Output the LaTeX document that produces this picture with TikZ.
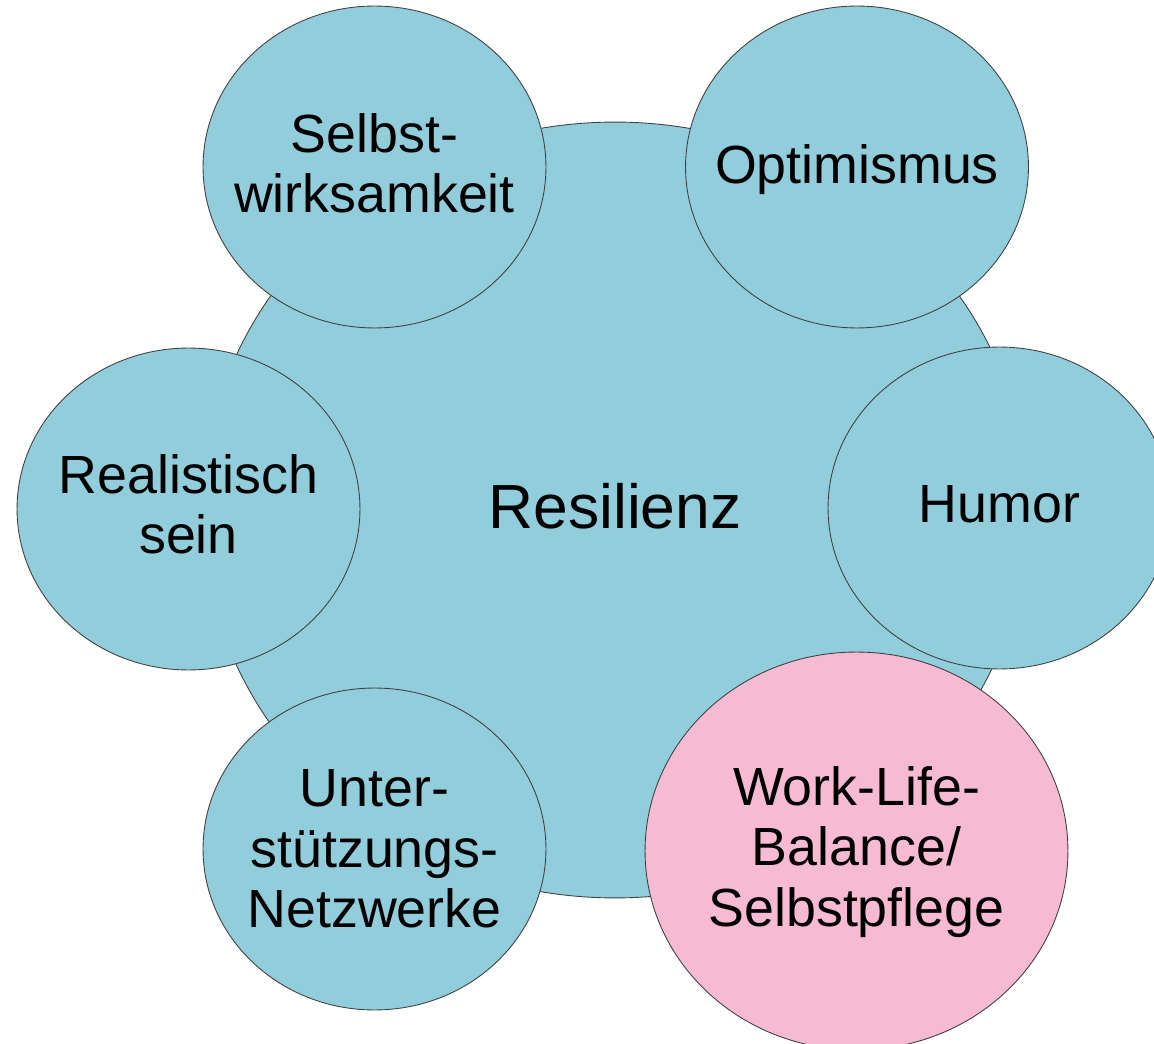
\documentclass[tikz,border=0pt]{standalone}
\usepackage{fontspec}
\setmainfont{Liberation Sans}
\usepackage{xcolor}
\usetikzlibrary{shapes.geometric}
\definecolor{resiblue}{RGB}{146,205,220}
\definecolor{resipink}{RGB}{246,187,210}

\begin{document}
\begin{tikzpicture}[x=0.02cm,y=-0.02cm]
	\tikzstyle{bubble}=[ellipse,draw=black!75,line width=0.5pt,fill=resiblue,inner sep=0pt,minimum width=6.86cm,minimum height=6.44cm]
	\tikzstyle{bubbletext}=[inner sep=0pt,align=center,font=\fontsize{30.6}{34.3}\selectfont]
	\useasboundingbox (0,0) rectangle (1154,1044);
	% big circle in the middle
	\node[bubble,minimum width=16.52cm,minimum height=15.52cm] (res) at (615,510) {};
	\node[bubbletext,font=\fontsize{35.5}{40}\selectfont] (res-txt) at ([yshift=2pt]res.center) {Resilienz};
	% small circles round it
	\node[bubble] (selbst) at (374.5,167) {};
	\node[bubble] (opti) at (857,167) {};
	\node[bubble] (real) at (188.5,509) {};
	\node[bubble] (humor) at (999.5,508) {};
	\node[bubble] (netz) at (374.5,849) {};
	\node[bubble,fill=resipink,minimum width=8.46cm,minimum height=7.96cm] (balance) at (856.5,851) {};
	\node[bubbletext] (selbst-txt) at ([yshift=2pt]selbst.center) {Selbst-\\wirksamkeit};
	\node[bubbletext] (opti-txt) at ([yshift=-1.5pt]opti.center) {Optimismus};
	\node[bubbletext] (real-txt) at ([yshift=2.5pt]real.center) {Realistisch\\sein};
	\node[bubbletext] (humor-txt) at ([yshift=2pt]humor.center) {Humor};
	\node[bubbletext] (netz-txt) at (netz.center) {Unter-\\stützungs-\\Netzwerke};
	\node[bubbletext] (balance-txt) at ([yshift=-0.5pt]balance.center) {Work-Life-\\Balance/\\Selbstpflege};
\end{tikzpicture}
\end{document}
